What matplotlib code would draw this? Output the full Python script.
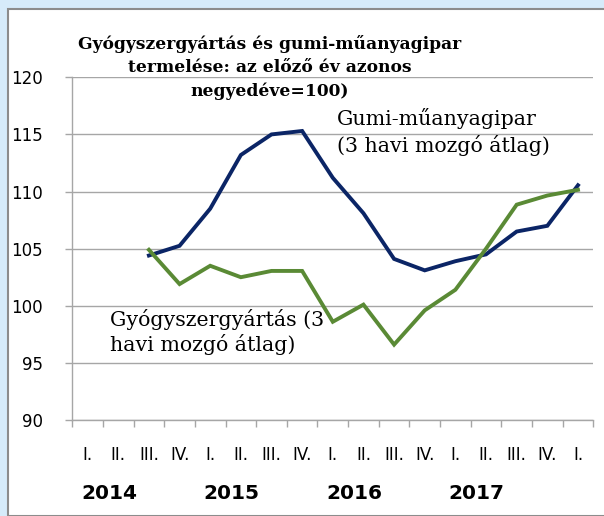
import matplotlib

matplotlib.use("Agg")
import matplotlib.pyplot as plt
from matplotlib.patches import Rectangle
from matplotlib.transforms import blended_transform_factory
import numpy as np

quarters = ["I.", "II.", "III.", "IV."] * 4 + ["I."]
years = ["2014", "2015", "2016", "2017"]
# 3 havi mozgó átlag, előző év azonos negyedéve = 100 (2014 III. negyedévtől)
gumi = [104.4, 105.25, 108.5, 113.2, 115.0, 115.3, 111.2, 108.1, 104.1, 103.1, 103.9, 104.5, 106.5, 107.0, 110.55]
gyogy = [104.9, 101.9, 103.5, 102.5, 103.05, 103.05, 98.6, 100.1, 96.6, 99.6, 101.4, 105.0, 108.85, 109.65, 110.15]
start = 2

BLUE = "#0b2566"
GREEN = "#5a8a35"
GRID = "#a6a6a6"

fig = plt.figure(figsize=(6.04, 5.16), dpi=100)
fig.patch.set_facecolor("#d6ebfa")
# white chart area inside the checkered frame
fig.patches.append(Rectangle((8 / 604, 0), 1, 1 - 9 / 516, transform=fig.transFigure,
                             facecolor="white", edgecolor="#8c8c8c", lw=1.5, zorder=-5))

ax = fig.add_axes([72.3 / 604, 1 - 420 / 516, (593.3 - 72.3) / 604, (420 - 77.3) / 516])
ax.set_facecolor("none")

x = np.arange(start, start + len(gumi))
ax.plot(x, gumi, color=BLUE, lw=2.8, solid_joinstyle="miter", zorder=3)
ax.plot(x, gyogy, color=GREEN, lw=2.8, solid_joinstyle="miter", zorder=3)

ax.set_xlim(-0.5, len(quarters) - 0.5)
ax.set_ylim(90, 120)
ax.set_yticks(range(90, 121, 5))
ax.tick_params(axis="y", length=5, width=1, color=GRID, pad=16, labelsize=12)
ax.yaxis.grid(True, color=GRID, lw=1)
ax.set_axisbelow(True)

ax.set_xticks(np.arange(len(quarters)))
ax.set_xticklabels(quarters, fontsize=12)
ax.set_xticks(np.arange(len(quarters) + 1) - 0.5, minor=True)
ax.tick_params(axis="x", which="major", length=0, pad=19)
ax.tick_params(axis="x", which="minor", length=5, width=1, color=GRID)

for s in ["top", "right"]:
    ax.spines[s].set_visible(False)
for s in ["left", "bottom"]:
    ax.spines[s].set_color(GRID)
    ax.spines[s].set_linewidth(1)

trans = blended_transform_factory(ax.transData, ax.transAxes)
for i, yr in enumerate(years):
    ax.text(0.7 + 4 * i, -0.215, yr, transform=trans, ha="center", va="center",
            fontsize=14.5, fontweight="heavy")

fig.text(270 / 604, 1 - 67.5 / 516,
         "Gyógyszergyártás és gumi-műanyagipar\ntermelése: az előző év azonos\nnegyedéve=100)",
         ha="center", va="center", fontsize=12.3, fontweight="bold", family="DejaVu Serif",
         linespacing=1.5)

ax.text(337 / 604, 1 - 132 / 516, "Gumi-műanyagipar\n(3 havi mozgó átlag)", transform=fig.transFigure,
        ha="left", va="center", fontsize=14.8, family="DejaVu Serif", linespacing=1.3)
ax.text(110 / 604, 1 - 332 / 516, "Gyógyszergyártás (3\nhavi mozgó átlag)", transform=fig.transFigure,
        ha="left", va="center", fontsize=14.8, family="DejaVu Serif", linespacing=1.2)

fig.savefig("out.png", dpi=100, facecolor=fig.get_facecolor())
